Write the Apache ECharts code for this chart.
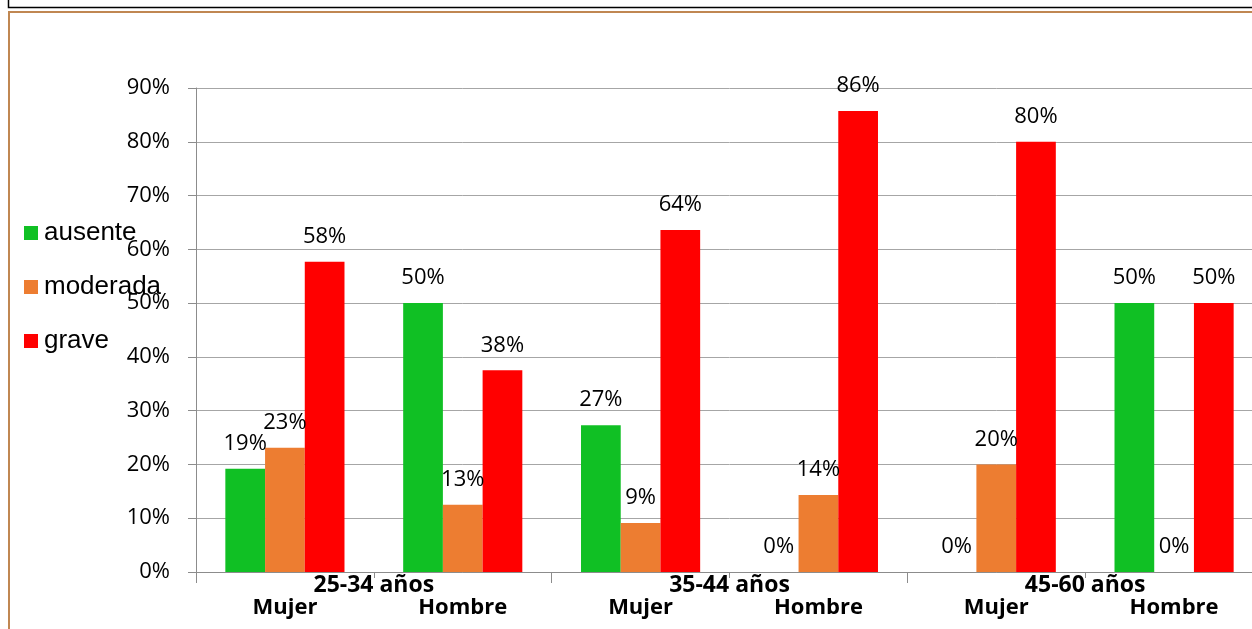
<!DOCTYPE html>
<html>
<head>
<meta charset="utf-8">
<script src="https://cdn.jsdelivr.net/npm/echarts@6/dist/echarts.min.js"></script>
<style>
  html, body { margin: 0; padding: 0; background: #ffffff; overflow: hidden; }
  #chart { width: 1272px; height: 629px; }
</style>
</head>
<body>
<div id="chart"></div>
<script>
// Sub-categories (sex) within each age band
const sexLabels = ['Mujer', 'Hombre', 'Mujer', 'Hombre', 'Mujer', 'Hombre'];
// Age bands, each spanning two sub-categories
const ageGroups = ['25-34 años', '35-44 años', '45-60 años'];
// Share of each severity level (%)
const ausente = [19.2, 50, 27.3, 0, 0, 50];
const moderada = [23.1, 12.5, 9.1, 14.3, 20, 0];
const grave = [57.7, 37.5, 63.6, 85.7, 80, 50];
// Value axis ticks
const yMin = 0, yMax = 90, yStep = 10;

const numFont = '"Open Sans", "Liberation Sans", sans-serif';

function barSeries(name, values, color) {
  return {
    name: name,
    type: 'bar',
    data: values,
    barGap: '0%',
    barCategoryGap: '33%',
    itemStyle: { color: color },
    label: {
      show: true,
      position: 'top',
      distance: 14,
      color: '#000',
      fontFamily: numFont,
      fontSize: 22,
      formatter: p => Math.round(p.value) + '%'
    }
  };
}

const chart = echarts.init(document.getElementById('chart'), null, { renderer: 'canvas' });
chart.setOption({
  animation: false,
  backgroundColor: '#ffffff',
  graphic: [
    { type: 'rect', shape: { x: 8.5, y: -20, width: 1300, height: 27.5 },
      style: { fill: 'none', stroke: '#000000', lineWidth: 1.5 }, silent: true },
    { type: 'rect', shape: { x: 9, y: 12, width: 1300, height: 700 },
      style: { fill: 'none', stroke: '#C08752', lineWidth: 2 }, silent: true }
  ],
  legend: {
    orient: 'vertical',
    left: 24,
    top: 220,
    padding: 0,
    itemWidth: 14,
    itemHeight: 14,
    itemGap: 28,
    icon: 'rect',
    textStyle: {
      fontFamily: '"Liberation Sans", Arial, sans-serif',
      fontSize: 26,
      lineHeight: 26,
      padding: [0, 0, 0, 1],
      color: '#000'
    },
    data: ['ausente', 'moderada', 'grave']
  },
  grid: { left: 196, top: 88, width: 1067, height: 484 },
  xAxis: [
    {
      type: 'category',
      data: sexLabels,
      axisLine: { lineStyle: { color: '#8C8C8C', width: 1 } },
      axisTick: { show: true, length: 6, lineStyle: { color: '#8C8C8C' } },
      axisLabel: {
        margin: 24,
        color: '#000',
        fontFamily: numFont,
        fontWeight: 'bold',
        fontSize: 22,
        lineHeight: 24
      }
    },
    {
      type: 'category',
      data: ageGroups,
      position: 'bottom',
      axisLine: { show: false },
      axisTick: { show: true, length: 11, lineStyle: { color: '#8C8C8C' } },
      axisLabel: {
        margin: 1,
        color: '#000',
        fontFamily: numFont,
        fontWeight: 'bold',
        fontSize: 23,
        lineHeight: 24
      }
    }
  ],
  yAxis: {
    type: 'value',
    min: yMin,
    max: yMax,
    interval: yStep,
    axisLine: { show: true, lineStyle: { color: '#8C8C8C', width: 1 } },
    axisTick: { show: true, length: 8, lineStyle: { color: '#8C8C8C' } },
    axisLabel: {
      margin: 26,
      color: '#000',
      fontFamily: numFont,
      fontSize: 22,
      formatter: v => v + '%'
    },
    splitLine: { show: true, lineStyle: { color: '#A6A6A6', width: 1 } }
  },
  series: [
    barSeries('ausente', ausente, '#10C024'),
    barSeries('moderada', moderada, '#ED7D31'),
    barSeries('grave', grave, '#FF0000')
  ]
});
</script>
</body>
</html>
